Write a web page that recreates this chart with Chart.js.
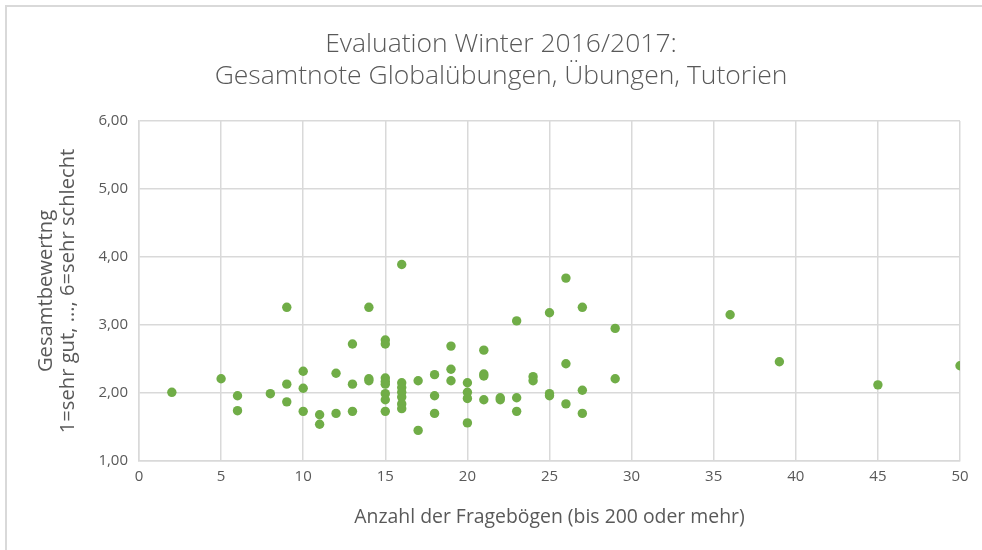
<!DOCTYPE html>
<html>
<head>
<meta charset="utf-8">
<script src="https://cdn.jsdelivr.net/npm/chart.js@4/dist/chart.umd.min.js"></script>
<style>
html,body{margin:0;padding:0;background:#fff;}
#wrap{width:982px;height:550px;position:relative;}
</style>
</head>
<body>
<div id="wrap"><canvas id="c" width="982" height="550"></canvas></div>
<script>
const titleLines = ["Evaluation Winter 2016/2017:", "Gesamtnote Globalübungen, Übungen, Tutorien"];
const xAxisTitle = "Anzahl der Fragebögen (bis 200 oder mehr)";
const yAxisTitle = ["Gesamtbewertng", "1=sehr gut, ..., 6=sehr schlecht"];

const xValues = [2, 5, 6, 6, 8, 9, 9, 9, 10, 10, 10, 11, 11, 12, 12, 13, 13, 13, 14, 14, 14,
  15, 15, 15, 15, 15, 15, 15, 15, 16, 16, 16, 16, 16, 16, 16, 17, 17, 18, 18, 18, 19, 19, 19,
  20, 20, 20, 20, 21, 21, 21, 21, 22, 22, 23, 23, 23, 24, 24, 25, 25, 25, 26, 26, 26, 27, 27, 27,
  29, 29, 36, 39, 45, 50];
const yValues = [2.01, 2.21, 1.96, 1.74, 1.99, 3.26, 2.13, 1.87, 2.32, 2.07, 1.73, 1.68, 1.54, 2.29, 1.70, 2.72, 2.13, 1.73, 3.26, 2.21, 2.18,
  2.78, 2.72, 2.22, 2.17, 2.13, 1.99, 1.90, 1.73, 3.89, 2.15, 2.08, 2.01, 1.94, 1.84, 1.77, 2.18, 1.45, 2.27, 1.96, 1.70, 2.69, 2.35, 2.18,
  2.15, 2.01, 1.92, 1.56, 2.63, 2.28, 2.25, 1.90, 1.93, 1.90, 3.06, 1.93, 1.73, 2.24, 2.18, 3.18, 1.99, 1.96, 3.69, 2.43, 1.84, 3.26, 2.04, 1.70,
  2.95, 2.21, 3.15, 2.46, 2.12, 2.40];

const points = xValues.map((x, i) => ({x: x, y: yValues[i]}));

const FONT = "'Open Sans'";
const TEXT = "#595959";
const GRID = "#d9d9d9";

// size a font so that a text reaches a target width
const mctx = document.createElement('canvas').getContext('2d');
function fitSize(text, target, weight) {
  mctx.font = (weight || 'normal') + ' 100px ' + FONT;
  const w = mctx.measureText(text).width;
  return Math.round(target / w * 1000) / 10;
}
const titleSize = fitSize(titleLines[1], 573, '300');
const xTitleSize = fitSize(xAxisTitle, 390);
const yTitleSize = fitSize(yAxisTitle[1], 285);
const tickSize = 15;

// chart frame (left/top border) and centred title
const framePlugin = {
  id: 'frame',
  afterDraw(chart) {
    const ctx = chart.ctx;
    ctx.save();
    ctx.strokeStyle = GRID;
    ctx.lineWidth = 2;
    ctx.beginPath();
    ctx.moveTo(6, 550);
    ctx.lineTo(6, 6);
    ctx.lineTo(982, 6);
    ctx.stroke();
    ctx.fillStyle = TEXT;
    ctx.font = '300 ' + titleSize + 'px ' + FONT;
    ctx.textAlign = 'center';
    ctx.textBaseline = 'middle';
    titleLines.forEach((t, i) => ctx.fillText(t, 501, 44 + i * 32));
    ctx.restore();
  }
};

new Chart(document.getElementById('c'), {
  type: 'scatter',
  data: {
    datasets: [{
      data: points,
      backgroundColor: '#70AD47',
      borderWidth: 0,
      pointRadius: 4.7,
      pointHoverRadius: 4.7
    }]
  },
  plugins: [framePlugin],
  options: {
    responsive: false,
    animation: false,
    devicePixelRatio: 1,
    layout: {padding: {left: 0, right: 22, top: 121, bottom: 0}},
    plugins: {
      legend: {display: false},
      tooltip: {enabled: false},
      title: {display: false}
    },
    scales: {
      x: {
        type: 'linear',
        min: 0, max: 50,
        afterFit(s) { s.height = 89; },
        ticks: {stepSize: 5, color: TEXT, font: {family: FONT, size: tickSize}, padding: 7, maxRotation: 0},
        grid: {color: GRID, lineWidth: 1.5, drawTicks: false},
        border: {color: GRID, width: 1.5},
        title: {display: true, text: xAxisTitle, color: TEXT, font: {family: FONT, size: xTitleSize, lineHeight: '20px'}, padding: {top: 0, bottom: 23}}
      },
      y: {
        type: 'linear',
        min: 1, max: 6,
        afterFit(s) { s.width = 139; },
        ticks: {stepSize: 1, color: TEXT, font: {family: FONT, size: tickSize}, padding: 11,
          callback: v => v.toFixed(2).replace('.', ',')},
        grid: {color: GRID, lineWidth: 1.5, drawTicks: false},
        border: {color: GRID, width: 1.5},
        title: {display: true, text: yAxisTitle, color: TEXT, font: {family: FONT, size: yTitleSize, lineHeight: '22px'}, padding: {top: 35}}
      }
    }
  }
});
</script>
</body>
</html>
